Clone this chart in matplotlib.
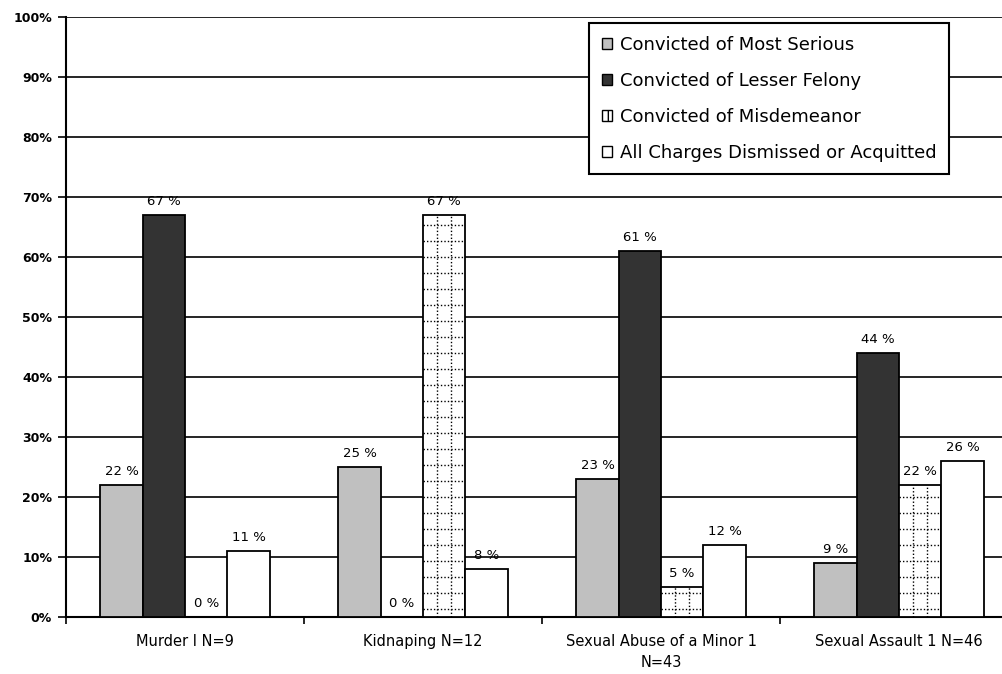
import matplotlib
matplotlib.use("Agg")
import matplotlib.pyplot as plt
from matplotlib.patches import Patch
from matplotlib.lines import Line2D
import numpy as np

categories = ["Murder I N=9", "Kidnaping N=12", "Sexual Abuse of a Minor 1\nN=43", "Sexual Assault 1 N=46"]
series_names = ["Convicted of Most Serious", "Convicted of Lesser Felony",
                "Convicted of Misdemeanor", "All Charges Dismissed or Acquitted"]
most_serious = [22, 25, 23, 9]
lesser_felony = [67, 0, 61, 44]
misdemeanor = [0, 67, 5, 22]
dismissed = [11, 8, 12, 26]
y_ticks = [0, 10, 20, 30, 40, 50, 60, 70, 80, 90, 100]

series = [most_serious, lesser_felony, misdemeanor, dismissed]
face_colors = ["#c0c0c0", "#333333", "white", "white"]

plt.rcParams['font.family'] = ['DejaVu Sans']

fig = plt.figure(figsize=(10.03, 6.74), dpi=100)
ax = fig.add_axes([66 / 1003, 57 / 674, 952 / 1003, 600 / 674])

x = np.arange(len(categories))
bw = 0.178
offsets = (np.arange(4) - 1.5) * bw

for i, (vals, fc) in enumerate(zip(series, face_colors)):
    bars = ax.bar(x + offsets[i], vals, width=bw, color=fc, edgecolor="black",
                  linewidth=1.3, zorder=3)
    if i == 2:
        # dotted grid fill for the misdemeanor bars
        for b in bars:
            x0, w, h = b.get_x(), b.get_width(), b.get_height()
            if h <= 0:
                continue
            for fx in (w / 3, 2 * w / 3):
                ln = Line2D([x0 + fx, x0 + fx], [0, h], color="black", lw=1.0,
                            linestyle=(0, (1, 1.5)), zorder=4)
                ax.add_line(ln)
                ln.set_clip_path(b)
            for yy in np.arange(1.3, h, 2.67):
                ln = Line2D([x0, x0 + w], [yy, yy], color="black", lw=1.0,
                            linestyle=(0, (1, 1.5)), zorder=4)
                ax.add_line(ln)
                ln.set_clip_path(b)
    for xi, v in zip(x + offsets[i], vals):
        ax.annotate(f"{v} %", (xi, v), xytext=(0, 5), textcoords="offset points",
                    ha="center", va="bottom", fontsize=9.5, zorder=5)

ax.set_xlim(-0.5, len(categories) - 0.5)
ax.set_ylim(0, 100)
ax.set_yticks(y_ticks)
ax.set_yticklabels([f"{t}%" for t in y_ticks], fontsize=9, fontweight="bold")
ax.yaxis.grid(True, color="black", linewidth=1.2, zorder=0)
ax.set_axisbelow(True)

ax.set_xticks(x)
ax.set_xticklabels(categories, fontsize=10.5, linespacing=1.5)
ax.tick_params(axis="x", length=0, pad=12)
ax.set_xticks(np.arange(-0.5, len(categories), 1), minor=True)
ax.tick_params(axis="x", which="minor", length=5, width=1.2, direction="out")
ax.tick_params(axis="y", length=6, width=1.2, direction="out", pad=4)

for s in ["top", "right"]:
    ax.spines[s].set_visible(False)
ax.spines["left"].set_linewidth(1.5)
ax.spines["bottom"].set_linewidth(1.5)

handles = [Patch(facecolor=fc, edgecolor="black", linewidth=1.0) for fc in face_colors]
handles[2] = Patch(facecolor="white", edgecolor="black", linewidth=1.0, hatch="+")
leg = fig.legend(handles, series_names, loc="upper right",
                 bbox_to_anchor=(949 / 1003, 1 - 23 / 674),
                 bbox_transform=fig.transFigure, fontsize=13,
                 handlelength=0.55, handleheight=0.55, handletextpad=0.45,
                 labelspacing=1.0, borderpad=0.7, borderaxespad=0,
                 fancybox=False, framealpha=1, edgecolor="black")
leg.get_frame().set_linewidth(1.5)

fig.savefig("out.png", dpi=100)
